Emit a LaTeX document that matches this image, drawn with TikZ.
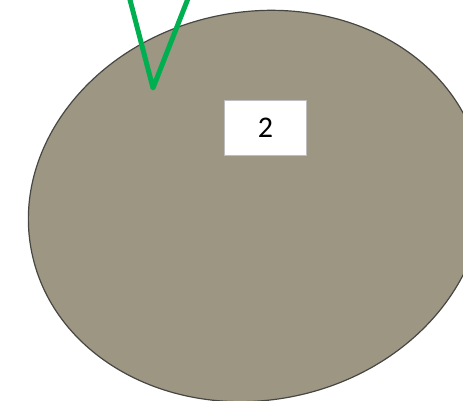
\documentclass[tikz,border=0pt]{standalone}
\usepackage{fontspec}
\setmainfont{Carlito}
\definecolor{blobfill}{RGB}{156,150,131}
\definecolor{blobedge}{RGB}{70,70,66}
\definecolor{vgreen}{RGB}{0,176,80}
\definecolor{boxedge}{RGB}{190,190,190}
\begin{document}
\begin{tikzpicture}[x=1pt,y=-1pt,
  blob/.style={fill=blobfill,draw=blobedge,line width=1.2pt},
  vline/.style={draw=vgreen,line width=5pt,line join=round},
  labelbox/.style={fill=white,draw=boxedge,line width=1.6pt,minimum width=82pt,minimum height=55pt,inner sep=0pt,font=\fontsize{30}{33}\selectfont}]
\useasboundingbox (0,0) rectangle (463,401);
\draw[blob] (256,206) ellipse [x radius=229, y radius=194, rotate=12];
\node[labelbox] (box) at (265.5,128) {2};
\coordinate (va) at (129,-4);
\coordinate (vb) at (153,88);
\coordinate (vc) at (189,-4);
\draw[vline] (va) -- (vb) -- (vc);
\end{tikzpicture}
\end{document}
